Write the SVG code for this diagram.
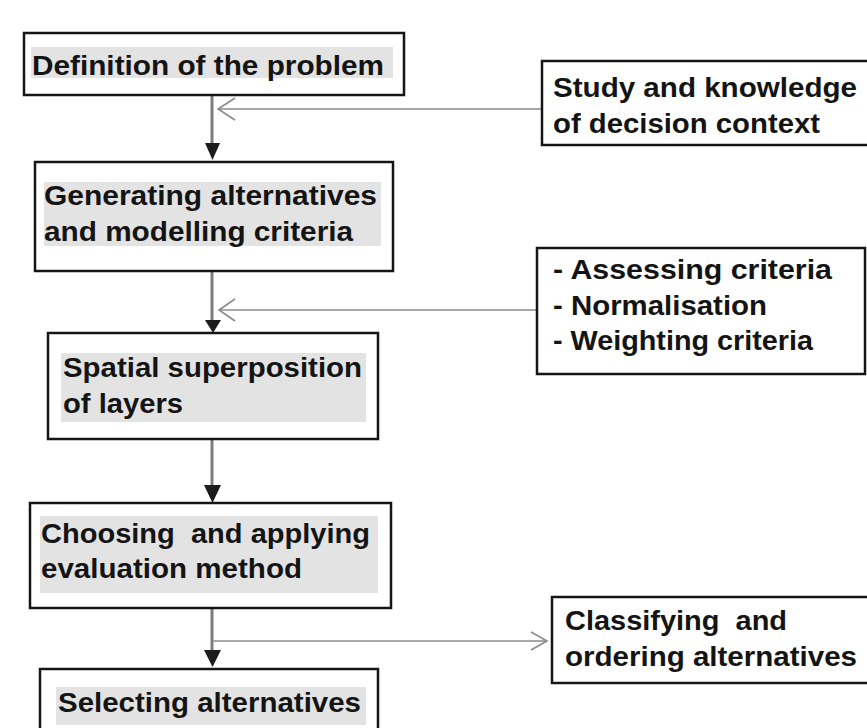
<svg xmlns="http://www.w3.org/2000/svg" width="867" height="728" viewBox="0 0 867 728">
<style>
.box{fill:#fff;stroke:#151515;stroke-width:2.5}
.hl{fill:#e3e3e3}
.t{font-family:"Liberation Sans",Arial,sans-serif;font-weight:bold;font-size:28px;fill:#141414}
.main{stroke:#7d7d7d;stroke-width:3;fill:none}
.side{stroke:#a8a8a8;stroke-width:2;fill:none}
.chev{stroke:#8a8a8a;stroke-width:1.6;fill:none}
.head{fill:#1c1c1c}
</style>
<rect width="867" height="728" fill="#fff"/>
<g id="connectors">
  <line class="main" x1="212" y1="95" x2="212" y2="148"/>
  <polygon class="head" points="205,143 220,143 212.5,160"/>
  <line class="side" x1="219" y1="109" x2="542" y2="109"/>
  <polyline class="chev" points="235,98 218,109 235,120"/>

  <line class="main" x1="212" y1="271" x2="212" y2="324"/>
  <polygon class="head" points="205,320 221,320 213,333"/>
  <line class="side" x1="220" y1="310" x2="537" y2="310"/>
  <polyline class="chev" points="235,299 219,310 235,321"/>

  <line class="main" x1="212" y1="439" x2="212" y2="490"/>
  <polygon class="head" points="204,485 221,485 212.5,503"/>

  <line class="main" x1="212" y1="608" x2="212" y2="654"/>
  <polygon class="head" points="204,650 221,650 212.5,667"/>
  <line class="side" x1="213" y1="641" x2="547" y2="641"/>
  <polyline class="chev" points="531,632 547,641 531,650"/>
</g>
<g id="n1">
  <rect class="box" x="24" y="33" width="380" height="62"/>
  <rect class="hl" x="31" y="47" width="362" height="31"/>
  <text class="t" x="32" y="75" textLength="352" lengthAdjust="spacingAndGlyphs">Definition of the problem</text>
</g>
<g id="n2">
  <rect class="box" x="542" y="61" width="330" height="84"/>
  <text class="t" x="553" y="97" textLength="304" lengthAdjust="spacingAndGlyphs">Study and knowledge</text>
  <text class="t" x="553" y="133" textLength="267" lengthAdjust="spacingAndGlyphs">of decision context</text>
</g>
<g id="n3">
  <rect class="box" x="35" y="162" width="358" height="109"/>
  <rect class="hl" x="44" y="182" width="337" height="64"/>
  <text class="t" x="44" y="205" textLength="333" lengthAdjust="spacingAndGlyphs">Generating alternatives</text>
  <text class="t" x="44" y="241" textLength="309" lengthAdjust="spacingAndGlyphs">and modelling criteria</text>
</g>
<g id="n4">
  <rect class="box" x="537" y="248" width="328" height="126"/>
  <text class="t" x="553" y="279" textLength="279" lengthAdjust="spacingAndGlyphs">- Assessing criteria</text>
  <text class="t" x="553" y="315" textLength="214" lengthAdjust="spacingAndGlyphs">- Normalisation</text>
  <text class="t" x="553" y="350" textLength="260" lengthAdjust="spacingAndGlyphs">- Weighting criteria</text>
</g>
<g id="n5">
  <rect class="box" x="48" y="333" width="330" height="106"/>
  <rect class="hl" x="61" y="353" width="305" height="69"/>
  <text class="t" x="63" y="377" textLength="299" lengthAdjust="spacingAndGlyphs">Spatial superposition</text>
  <text class="t" x="63" y="413" textLength="120" lengthAdjust="spacingAndGlyphs">of layers</text>
</g>
<g id="n6">
  <rect class="box" x="30" y="503" width="361" height="105"/>
  <rect class="hl" x="40" y="516" width="338" height="77"/>
  <text class="t" x="41" y="543" textLength="329" lengthAdjust="spacingAndGlyphs" xml:space="preserve">Choosing  and applying</text>
  <text class="t" x="41" y="578" textLength="261" lengthAdjust="spacingAndGlyphs">evaluation method</text>
</g>
<g id="n7">
  <rect class="box" x="552" y="597" width="320" height="86"/>
  <text class="t" x="565" y="630" textLength="222" lengthAdjust="spacingAndGlyphs" xml:space="preserve">Classifying  and</text>
  <text class="t" x="565" y="666" textLength="292" lengthAdjust="spacingAndGlyphs">ordering alternatives</text>
</g>
<g id="n8">
  <rect class="box" x="40" y="669" width="338" height="80"/>
  <rect class="hl" x="56" y="687" width="310" height="38"/>
  <text class="t" x="58" y="712" textLength="303" lengthAdjust="spacingAndGlyphs">Selecting alternatives</text>
</g>
</svg>
